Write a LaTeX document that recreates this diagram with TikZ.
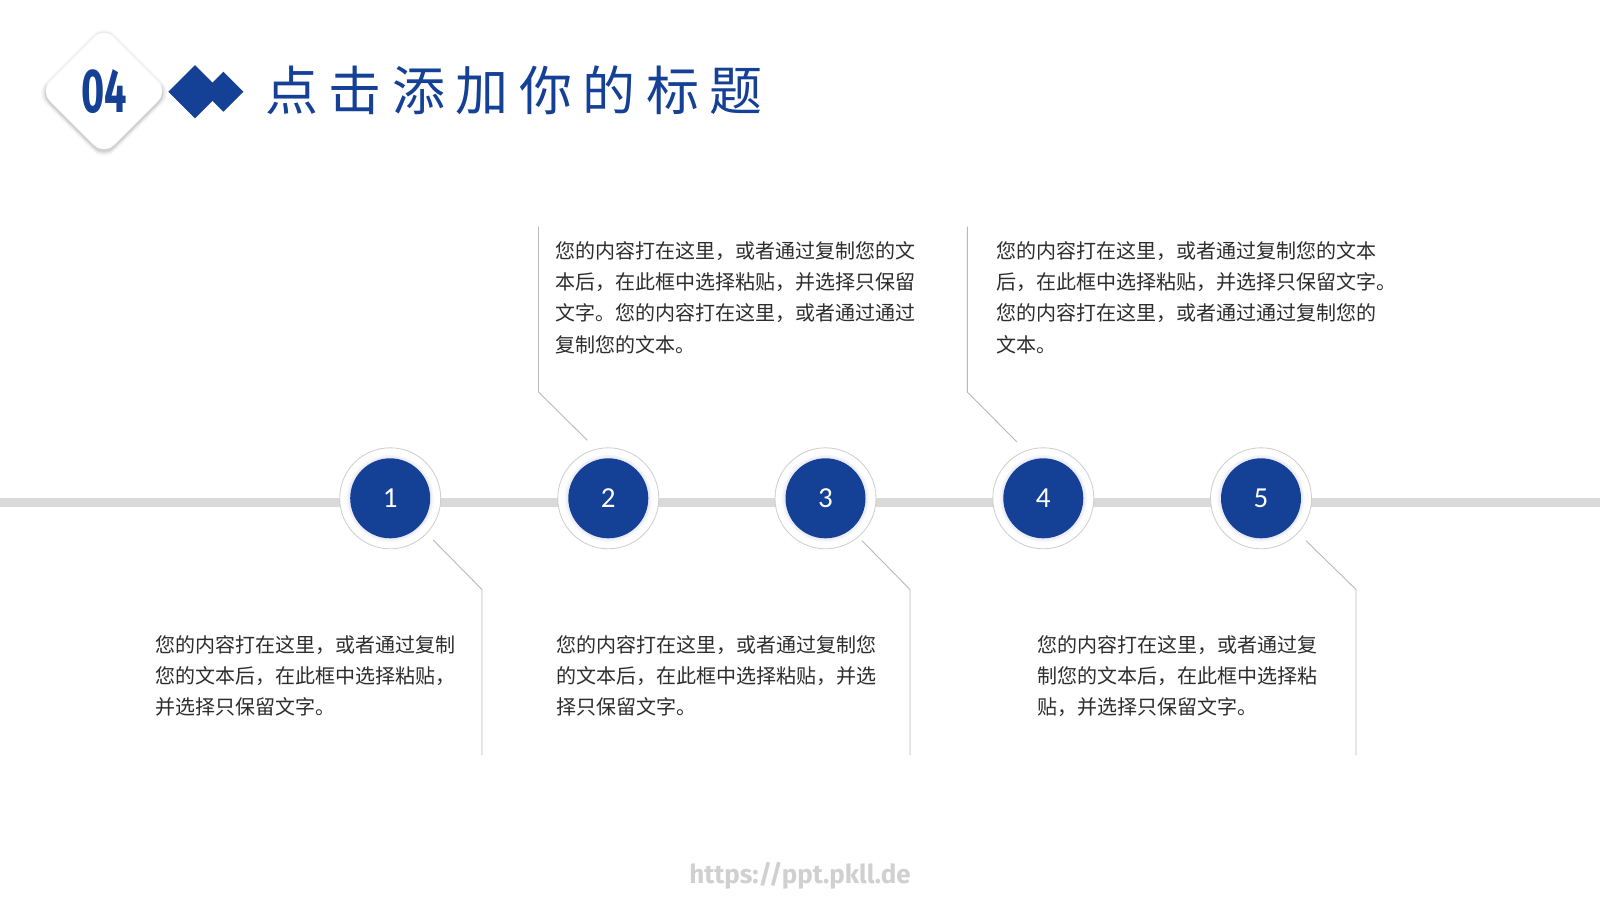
\documentclass[tikz,border=0pt]{standalone}
\usepackage{fontspec}
\usepackage{graphicx}
\setmainfont{Noto Sans CJK SC}
\newfontfamily\numfont{Carlito}
\newfontfamily\firafont{Fira Sans}
\usetikzlibrary{calc}
\definecolor{mainblue}{RGB}{20,64,150}
\definecolor{linegray}{RGB}{217,217,217}
\definecolor{txtgray}{RGB}{45,45,45}
\definecolor{conngray}{RGB}{185,185,185}
\definecolor{ringgray}{RGB}{205,205,205}
\definecolor{wmgray}{RGB}{208,208,208}
\tikzset{
  outerring/.style={circle, fill=white, draw=ringgray, line width=0.8pt, minimum size=101pt, inner sep=0pt},
  innerdot/.style={circle, fill=mainblue, minimum size=80pt, inner sep=0pt, text=white,
    font={\numfont\fontsize{29}{29}\selectfont}},
  conn/.style={draw=conngray, line width=0.9pt},
  bodytext/.style={anchor=north west, inner sep=0pt, align=left, text=txtgray,
    font={\fontsize{20}{31.4}\selectfont}},
}
\begin{document}
\begin{tikzpicture}[x=1pt,y=-1pt]
\useasboundingbox (0,0) rectangle (1600,900);
\fill[white] (0,0) rectangle (1600,900);

% header diamond with soft shadow
\foreach \s/\o in {5/0.03,3.5/0.04,2/0.05,1/0.06}{
  \fill[black,opacity=\o,rounded corners=14pt]
    (104,27-\s+2) -- (168+\s,91+2) -- (104,155+\s+2) -- (40-\s,91+2) -- cycle;
}
\fill[white,rounded corners=14pt] (104,27) -- (168,91) -- (104,155) -- (40,91) -- cycle;
\node[text=mainblue, inner sep=0pt] (num) at (104.5,91.2)
  {\scalebox{0.64}[1]{\firafont\bfseries\fontsize{62}{62}\selectfont 04}};

% blue diamonds
\fill[mainblue] (195,65) -- (221.7,91.7) -- (195,118.3) -- (168.3,91.7) -- cycle;
\fill[mainblue] (223.3,71.7) -- (243.3,91.7) -- (223.3,111.7) -- (203.3,91.7) -- cycle;

% title
\node[anchor=west, inner sep=0pt, text=mainblue] (title) at (265,90.5)
  {\fontsize{53}{53}\selectfont 点\kern10.5pt击\kern10.5pt添\kern10.5pt加\kern10.5pt你\kern10.5pt的\kern10.5pt标\kern10.5pt题};

% main horizontal line
\coordinate (lineL) at (0,502.5);
\coordinate (lineR) at (1600,502.5);
\draw[linegray, line width=8.5pt] (lineL) -- (lineR);

% circles
\foreach \i/\x in {1/390.2,2/608.3,3/825.5,4/1043.3,5/1261}{
  \node[outerring] (c\i) at (\x,498.3) {};
  \fill[black!40!blue!30,opacity=0.10] (c\i) circle (43.5);
  \fill[black!40!blue!30,opacity=0.15] (c\i) circle (42);
  \node[innerdot] (n\i) at (c\i) {\i};
}

% connectors
\coordinate (s1) at ($(c1)+(43,41.7)$);
\coordinate (b1) at (482,589.5);
\coordinate (e1) at (482,755);
\draw[conn] (s1) -- (b1) -- (e1);

\coordinate (s2) at ($(c2)+(-21,-58)$);
\coordinate (b2) at (538.5,392);
\coordinate (e2) at (538.5,226.5);
\draw[conn] (s2) -- (b2) -- (e2);

\coordinate (s3) at ($(c3)+(36.5,42.4)$);
\coordinate (b3) at (910,589.5);
\coordinate (e3) at (910,755);
\draw[conn] (s3) -- (b3) -- (e3);

\coordinate (s4) at ($(c4)+(-26.6,-56.6)$);
\coordinate (b4) at (967.3,392);
\coordinate (e4) at (967.3,226.5);
\draw[conn] (s4) -- (b4) -- (e4);

\coordinate (s5) at ($(c5)+(45,42.4)$);
\coordinate (b5) at (1356,589.5);
\coordinate (e5) at (1356,755);
\draw[conn] (s5) -- (b5) -- (e5);

% texts
\node[bodytext] (t2) at (555.5,241) {您的内容打在这里，或者通过复制您的文\\本后，在此框中选择粘贴，并选择只保留\\文字。您的内容打在这里，或者通过通过\\复制您的文本。};
\node[bodytext] (t4) at (996,241) {您的内容打在这里，或者通过复制您的文本\\后，在此框中选择粘贴，并选择只保留文字。\\您的内容打在这里，或者通过通过复制您的\\文本。};
\node[bodytext] (t1) at (155,635) {您的内容打在这里，或者通过复制\\您的文本后，在此框中选择粘贴，\\并选择只保留文字。};
\node[bodytext] (t3) at (556,635) {您的内容打在这里，或者通过复制您\\的文本后，在此框中选择粘贴，并选\\择只保留文字。};
\node[bodytext] (t5) at (1037.5,635) {您的内容打在这里，或者通过复\\制您的文本后，在此框中选择粘\\贴，并选择只保留文字。};

% watermark
\node[text=wmgray, inner sep=0pt] (wm) at (800,876) {\firafont\bfseries\fontsize{26}{26}\selectfont https://ppt.pkll.de};
\end{tikzpicture}
\end{document}
